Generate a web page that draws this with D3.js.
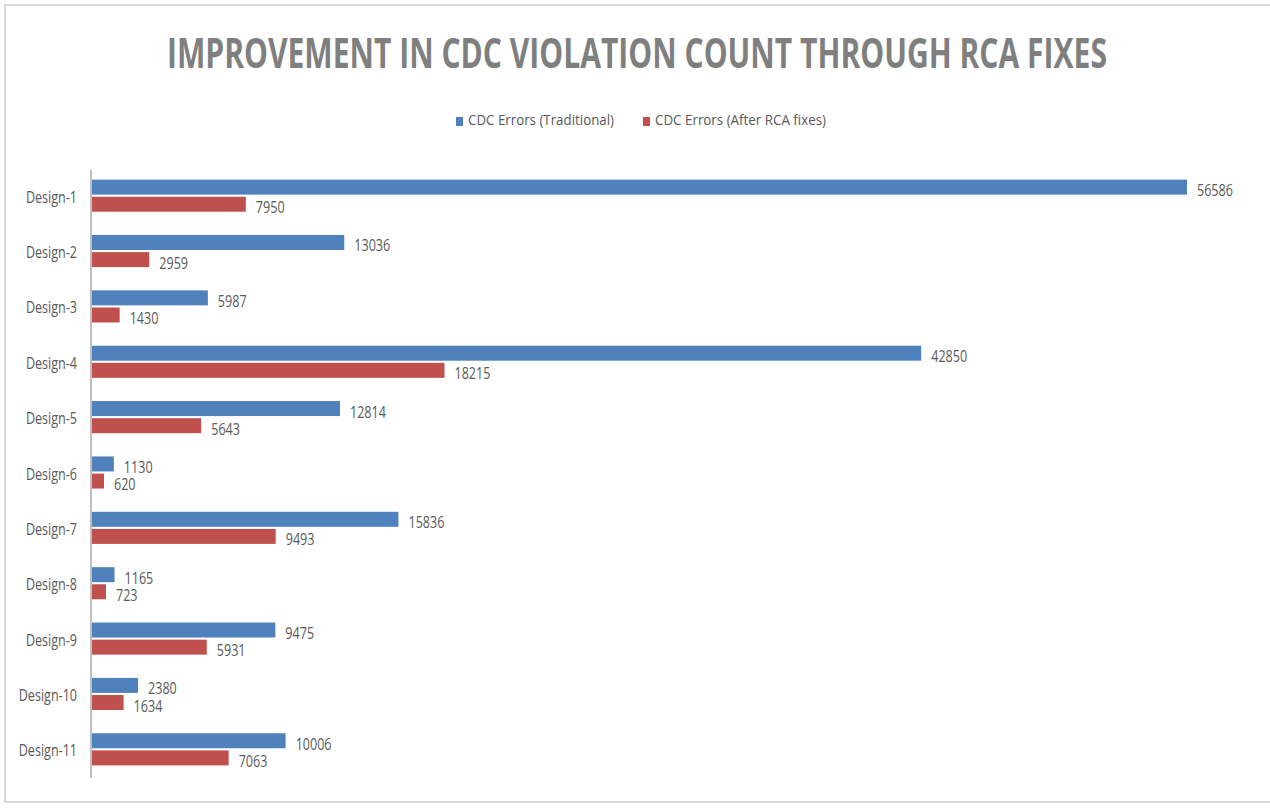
<!DOCTYPE html>
<html lang="en">
<head>
    <meta charset="UTF-8">
    <title>Improvement in CDC Violation Count</title>
    <style>
        body { margin: 0; background: #fff; }
        text { font-family: "Open Sans", sans-serif; }
        .cat, .val { font-size: 17px; fill: #595959; }
        .legend text { font-size: 14px; fill: #595959; }
        .title { font-size: 41px; font-weight: bold; fill: #7f7f7f; }
    </style>
</head>
<body>
    <script src="https://d3js.org/d3.v7.min.js"></script>
    <script>
        const categories = ["Design-1", "Design-2", "Design-3", "Design-4", "Design-5", "Design-6",
            "Design-7", "Design-8", "Design-9", "Design-10", "Design-11"];
        const seriesNames = ["CDC Errors (Traditional)", "CDC Errors (After RCA fixes)"];
        const traditional = [56586, 13036, 5987, 42850, 12814, 1130, 15836, 1165, 9475, 2380, 10006];
        const afterRca = [7950, 2959, 1430, 18215, 5643, 620, 9493, 723, 5931, 1634, 7063];
        const colors = ["#4f81bd", "#c0504d"];

        const width = 1270, height = 808;
        const squeeze = 0.74; // the picture is horizontally condensed

        const svg = d3.select("body").append("svg")
            .attr("width", width)
            .attr("height", height);

        // chart border
        svg.append("rect")
            .attr("x", 5).attr("y", 5)
            .attr("width", width - 4).attr("height", height - 11)
            .attr("fill", "none")
            .attr("stroke", "#d9d9d9")
            .attr("stroke-width", 2);

        svg.append("text")
            .attr("class", "title")
            .attr("x", 167).attr("y", 68)
            .attr("textLength", 940)
            .attr("lengthAdjust", "spacingAndGlyphs")
            .text("IMPROVEMENT IN CDC VIOLATION COUNT THROUGH RCA FIXES");

        // legend
        const legendX = [456, 643];
        const legendW = [146, 171];
        const legend = svg.append("g").attr("class", "legend");
        seriesNames.forEach((name, i) => {
            legend.append("rect")
                .attr("x", legendX[i]).attr("y", 117)
                .attr("width", 7).attr("height", 9)
                .attr("fill", colors[i]);
            legend.append("text")
                .attr("x", legendX[i] + 12).attr("y", 125)
                .attr("textLength", legendW[i])
                .attr("lengthAdjust", "spacingAndGlyphs")
                .text(name);
        });

        const data = categories.map((c, i) => ({ cat: c, values: [traditional[i], afterRca[i]] }));

        const x = d3.scaleLinear()
            .domain([0, d3.max(traditional)])
            .range([92, 1187]);

        const y0 = d3.scaleBand()
            .domain(categories)
            .range([168, 777])
            .paddingInner(0.42)
            .paddingOuter(0.21);

        const y1 = d3.scaleBand()
            .domain([0, 1])
            .range([0, y0.bandwidth()])
            .paddingInner(0.125);

        const groups = svg.selectAll(".grp")
            .data(data)
            .enter().append("g")
            .attr("class", "grp")
            .attr("transform", d => `translate(0,${y0(d.cat)})`);

        const bars = groups.selectAll(".bar")
            .data(d => d.values.map((v, i) => ({ v, i })))
            .enter();

        bars.append("rect")
            .attr("class", "bar")
            .attr("x", x(0))
            .attr("y", d => y1(d.i))
            .attr("width", d => x(d.v) - x(0))
            .attr("height", y1.bandwidth())
            .attr("fill", d => colors[d.i]);

        bars.append("text")
            .attr("class", "val")
            .attr("transform", d => `translate(${x(d.v) + 10},${y1(d.i) + y1.bandwidth() / 2 + 9}) scale(${squeeze},1)`)
            .text(d => d.v);

        // category labels
        svg.selectAll(".cat")
            .data(categories)
            .enter().append("text")
            .attr("class", "cat")
            .attr("text-anchor", "end")
            .attr("transform", d => `translate(77,${y0(d) + y0.bandwidth() / 2 + 7}) scale(${squeeze},1)`)
            .text(d => d);

        // vertical axis line
        svg.append("line")
            .attr("x1", 91).attr("x2", 91)
            .attr("y1", 170).attr("y2", 778)
            .attr("stroke", "#bfbfbf")
            .attr("stroke-width", 2);
    </script>
</body>
</html>
